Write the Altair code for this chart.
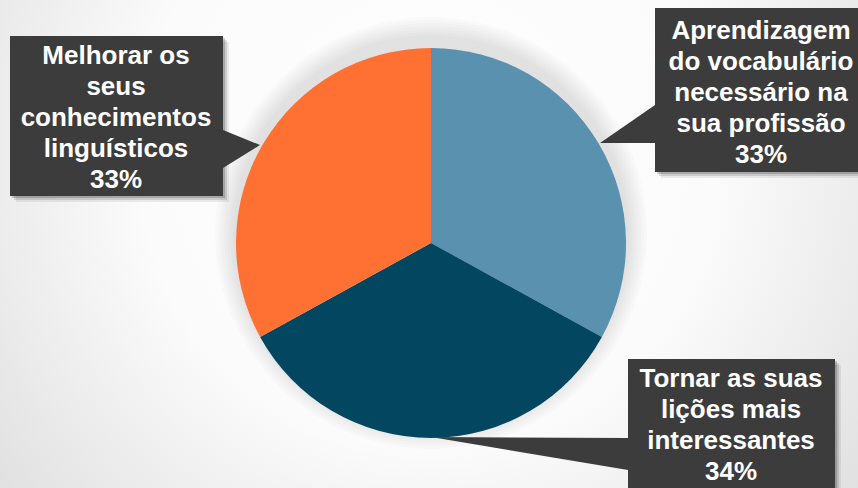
import altair as alt
import pandas as pd

W, H = 858, 488

# ---- data ----
categories = [
    "Aprendizagem do vocabulário necessário na sua profissão",
    "Tornar as suas lições mais interessantes",
    "Melhorar os seus conhecimentos linguísticos",
]
values = [33, 34, 33]
label_lines = [
    ["Aprendizagem", "do vocabulário", "necessário na", "sua profissão"],
    ["Tornar as suas", "lições mais", "interessantes"],
    ["Melhorar os", "seus", "conhecimentos", "linguísticos"],
]
colors = ["#5A91AF", "#02465F", "#FF7033"]

# ---- layout (pixel positions of callouts) ----
CX, CY, R = 431, 243, 195
box_x = [655, 628, 10]
box_x2 = [867, 835, 223]
box_y = [8, 359, 36]
box_y2 = [172, 500, 196]
text_x = [761, 731, 116]
text_y = [39, 387, 64]
ptr_tip = [(600, 143), (431, 437), (260, 145)]
ptr_edge_x = [655, 628, 223]
ptr_edge_y = [(105, 143), (438, 470), (130, 168)]

pie_df = pd.DataFrame({"category": categories, "value": values, "order": list(range(len(values)))})

boxes = pd.DataFrame({"x": box_x, "x2": box_x2, "y": box_y, "y2": box_y2})
labels = pd.DataFrame({
    "tx": text_x, "ty": text_y,
    "label": ["\n".join(l + [f"{v}%"]) for l, v in zip(label_lines, values)],
})
ptr_rows = []
for i, ((tx, ty), ex, (ey1, ey2)) in enumerate(zip(ptr_tip, ptr_edge_x, ptr_edge_y)):
    ptr_rows.append({"id": i, "x": tx, "y": ty, "y2": ty})
    ptr_rows.append({"id": i, "x": ex, "y": ey1, "y2": ey2})
ptrs = pd.DataFrame(ptr_rows)

one = pd.DataFrame({"a": [0]})

bg = alt.Chart(one).mark_rect(
    color=alt.RadialGradient(
        gradient="radial",
        stops=[
            alt.GradientStop(offset=0, color="#ffffff"),
            alt.GradientStop(offset=0.45, color="#fbfbfb"),
            alt.GradientStop(offset=1, color="#d6d6d6"),
        ],
        x1=0.5, y1=0.4, r1=0, x2=0.5, y2=0.4, r2=0.75,
    )
).encode(x=alt.value(0), x2=alt.value(W), y=alt.value(0), y2=alt.value(H))

glow_layers = []
for k in range(1, 8):
    glow_layers.append(
        alt.Chart(one).mark_arc(radius=R + 3 * k, color="#000000", opacity=0.016).encode(
            x=alt.value(CX), y=alt.value(CY - 10), theta=alt.value(0), theta2=alt.value(6.2832)
        )
    )

pie = alt.Chart(pie_df).mark_arc(radius=R).encode(
    theta=alt.Theta("value:Q", stack=True),
    order=alt.Order("order:Q"),
    color=alt.Color("category:N", scale=alt.Scale(domain=categories, range=colors), legend=None),
    x=alt.value(CX), y=alt.value(CY),
)

shadow_layers = []
for off, op in [(2, 0.18), (4, 0.12), (6, 0.07)]:
    shadow_layers.append(
        alt.Chart(boxes).mark_rect(color="#000000", opacity=op).encode(
            x=alt.X("x:Q", scale=None), x2="x2:Q", y=alt.Y("y:Q", scale=None), y2="y2:Q"
        ).transform_calculate(
            x=f"datum.x + {off}", x2=f"datum.x2 + {off}", y=f"datum.y + {off}", y2=f"datum.y2 + {off}"
        )
    )

box_layer = alt.Chart(boxes).mark_rect(color="#3c3c3c").encode(
    x=alt.X("x:Q", scale=None), x2="x2:Q", y=alt.Y("y:Q", scale=None), y2="y2:Q"
)

ptr_layer = alt.Chart(ptrs).mark_area(color="#3c3c3c", interpolate="linear").encode(
    x=alt.X("x:Q", scale=None), y=alt.Y("y:Q", scale=None), y2="y2:Q", detail="id:N"
)

text_layer = alt.Chart(labels).mark_text(
    font="Liberation Sans", fontWeight="bold", fontSize=26, lineHeight=31,
    color="white", align="center", baseline="alphabetic", lineBreak="\n",
).encode(x=alt.X("tx:Q", scale=None), y=alt.Y("ty:Q", scale=None), text="label:N")

chart = alt.layer(
    bg, *glow_layers, pie, *shadow_layers, ptr_layer, box_layer, text_layer
).properties(
    width=W, height=H, autosize=alt.AutoSizeParams(type="none"), padding=0
).configure_view(stroke=None)

chart.save("out.html", embed_options={"renderer": "svg", "actions": False})
